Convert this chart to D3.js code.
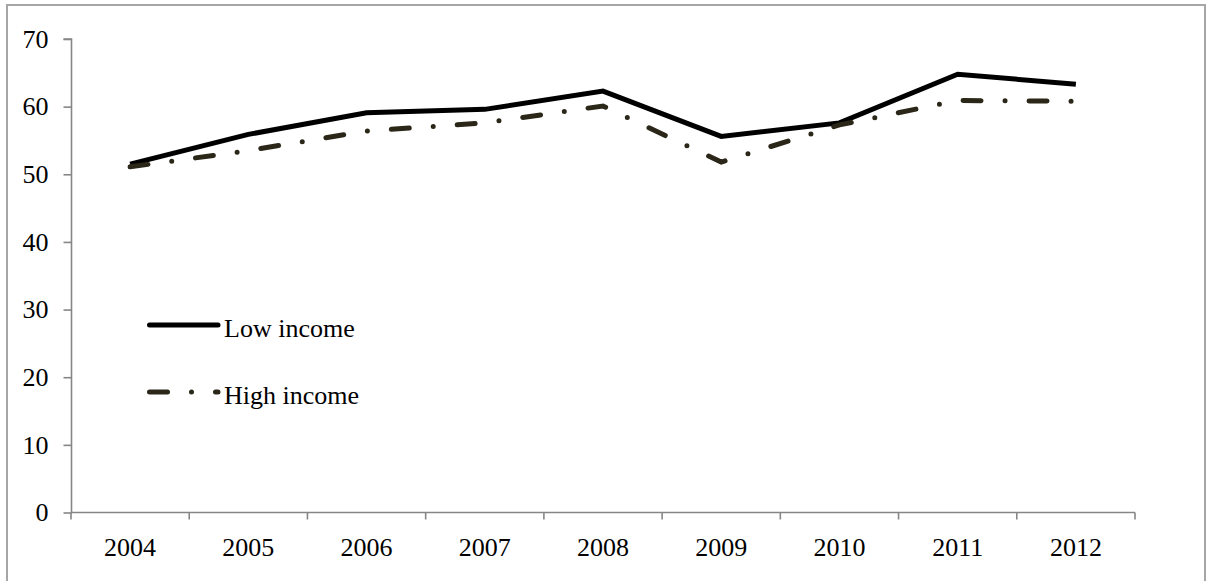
<!DOCTYPE html>
<html>
<head>
<meta charset="utf-8">
<script src="https://cdn.jsdelivr.net/npm/d3@7"></script>
<style>
  html, body { margin: 0; padding: 0; background: #fff; }
  svg { display: block; }
  text { font-family: "Liberation Serif", "Times New Roman", serif; fill: #000; }
</style>
</head>
<body>
<svg id="chart" width="1208" height="581"></svg>
<script>
// Survey share by income group, 2004–2012
const years = ["2004", "2005", "2006", "2007", "2008", "2009", "2010", "2011", "2012"];
const lowIncome = [51.5, 55.9, 59.1, 59.6, 62.3, 55.6, 57.6, 64.8, 63.3];
const highIncome = [51.1, 53.5, 56.4, 57.6, 60.1, 51.8, 57.3, 60.9, 60.8];
const yTicks = [0, 10, 20, 30, 40, 50, 60, 70];
const seriesNames = ["Low income", "High income"];

const svg = d3.select("#chart");
const axisColor = "#868686";

// outer frame
svg.append("rect")
  .attr("x", 7).attr("y", 5)
  .attr("width", 1198).attr("height", 600)
  .attr("fill", "none")
  .attr("stroke", "#a6a6a6")
  .attr("stroke-width", 2);

const x = d3.scaleBand().domain(years).range([71, 1135]).paddingInner(0).paddingOuter(0);
const xc = d => x(d) + x.bandwidth() / 2;
const y = d3.scaleLinear().domain([0, 70]).range([512.5, 39]);

// y axis
const yAxis = d3.axisLeft(y).tickValues(yTicks).tickSize(8).tickPadding(15).tickFormat(d3.format("d"));
const gy = svg.append("g").attr("transform", "translate(71.5,0)").call(yAxis);
gy.select(".domain").attr("stroke", axisColor).attr("stroke-width", 1.6)
  .attr("d", `M-8,${y(70)}H0V${y(0)}`);
gy.selectAll(".tick line").attr("stroke", axisColor).attr("stroke-width", 1.6);
gy.selectAll(".tick text")
  .style("font-family", '"Liberation Serif", "Times New Roman", serif')
  .style("font-size", "26px").attr("fill", "#000").attr("dy", "0.32em");

// x axis: labels centred in bands, ticks on band boundaries
const gx = svg.append("g").attr("transform", `translate(0,${y(0)})`);
gx.append("line")
  .attr("x1", x.range()[0]).attr("x2", x.range()[1])
  .attr("stroke", axisColor).attr("stroke-width", 1.6);
const boundaries = years.map(d => x(d)).concat([x.range()[1]]);
gx.selectAll("line.tick").data(boundaries).join("line")
  .attr("class", "tick")
  .attr("x1", d => d).attr("x2", d => d)
  .attr("y1", 0).attr("y2", 7)
  .attr("stroke", axisColor).attr("stroke-width", 1.6);
gx.selectAll("text").data(years).join("text")
  .attr("x", d => xc(d)).attr("y", 43)
  .attr("text-anchor", "middle")
  .style("font-size", "26px")
  .text(d => d);

// series lines
const line = d3.line().x((d, i) => xc(years[i])).y(d => y(d));
const styles = [
  { color: "#000000", dash: null },
  { color: "#2a2718", dash: "18 24 0 24" }
];
[lowIncome, highIncome].forEach((vals, k) => {
  svg.append("path")
    .datum(vals)
    .attr("d", line)
    .attr("fill", "none")
    .attr("stroke", styles[k].color)
    .attr("stroke-width", 5)
    .attr("stroke-linejoin", "miter")
    .attr("stroke-linecap", styles[k].dash ? "round" : "butt")
    .attr("stroke-dasharray", styles[k].dash);
});

// legend
const legendY = [325, 392];
seriesNames.forEach((name, k) => {
  svg.append("line")
    .attr("x1", 149.5).attr("x2", 218)
    .attr("y1", legendY[k]).attr("y2", legendY[k])
    .attr("stroke", styles[k].color)
    .attr("stroke-width", 5)
    .attr("stroke-linecap", "round")
    .attr("stroke-dasharray", styles[k].dash);
  svg.append("text")
    .attr("x", 224).attr("y", legendY[k] + 12)
    .style("font-size", "26px")
    .text(name);
});
</script>
</body>
</html>
